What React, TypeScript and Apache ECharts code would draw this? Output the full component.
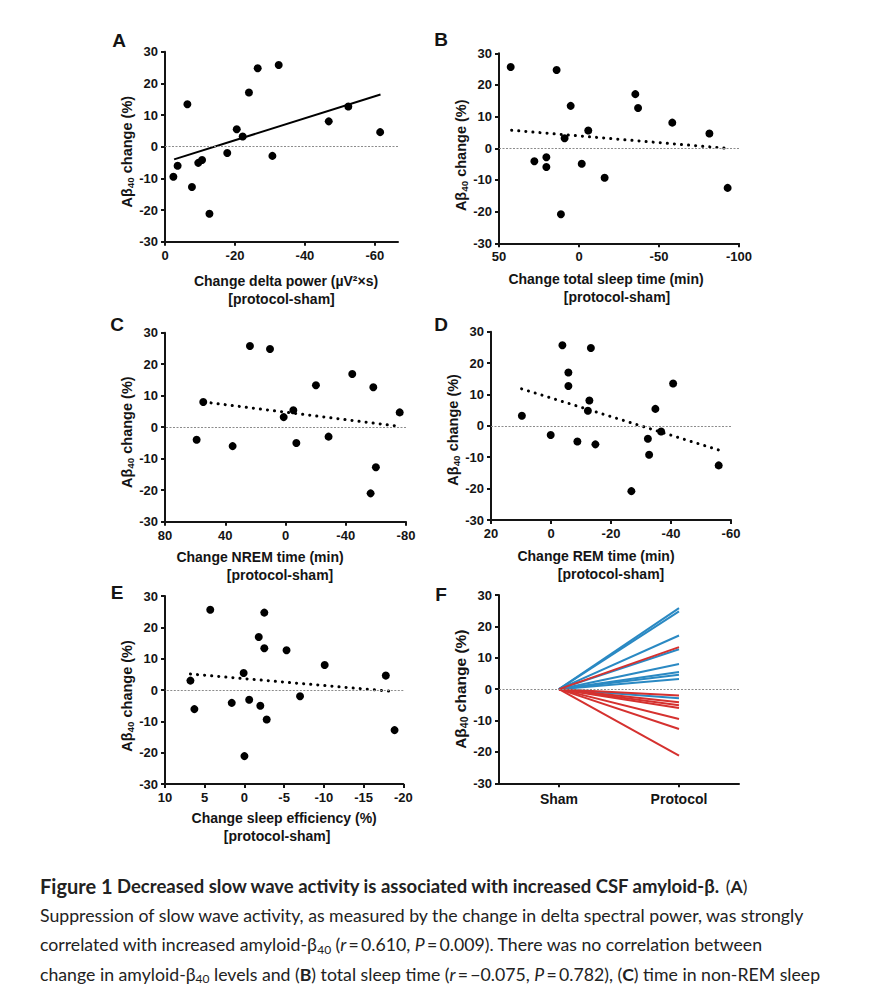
import React, { useEffect, useRef } from 'react';
import * as echarts from 'echarts';

// ---------- Data ----------
// Panel A: change delta power vs Abeta40 change
const aX = [-2.4, -3.6, -6.4, -7.7, -9.5, -10.6, -12.7, -17.8, -20.5, -22.2, -24.0, -26.5, -30.7, -32.5, -46.8, -52.4, -61.5];
const aY = [-9.5, -6.0, 13.4, -12.7, -5.1, -4.2, -21.2, -2.0, 5.5, 3.2, 17.1, 24.8, -2.9, 25.8, 8.0, 12.7, 4.6];
const aFitX = [-2.6, -61.6];
const aFitY = [-4.0, 16.5];

// Panel B: change total sleep time
const bX = [42.7, 27.9, 20.4, 20.4, 14.0, 11.3, 9.0, 5.2, -1.7, -5.8, -16.0, -35.2, -36.9, -58.3, -81.5, -92.9];
const bY = [25.7, -4.1, -2.8, -5.9, 24.7, -20.8, 3.2, 13.4, -4.9, 5.6, -9.3, 17.1, 12.7, 8.1, 4.7, -12.5];
const bFitX = [42.1, -92.3];
const bFitY = [5.7, 0.0];

// Panel C: change NREM time
const cX = [59.0, 54.6, 35.1, 23.6, 10.3, 1.2, -5.2, -7.2, -20.2, -28.6, -44.3, -56.5, -58.3, -60.0, -75.8];
const cY = [-4.0, 8.0, -6.0, 25.8, 24.8, 3.2, 5.4, -5.0, 13.3, -3.0, 16.9, -21.0, 12.7, -12.7, 4.7];
const cFitX = [54.1, -75.3];
const cFitY = [8.0, 0.3];

// Panel D: change REM time
const dX = [9.7, 0.1, -3.8, -5.8, -5.8, -8.8, -12.3, -12.8, -13.3, -14.8, -26.8, -32.3, -32.7, -34.8, -36.7, -40.7, -55.9];
const dY = [3.2, -2.9, 25.7, 17.0, 12.7, -5.0, 4.8, 8.1, 24.8, -5.9, -20.8, -4.1, -9.2, 5.4, -1.8, 13.5, -12.6];
const dFitX = [9.8, -55.9];
const dFitY = [11.8, -7.7];

// Panel E: change sleep efficiency
const eX = [6.8, 6.3, 4.3, 1.6, 0.1, 0.0, -0.6, -1.8, -2.0, -2.5, -2.5, -2.8, -5.3, -7.0, -10.1, -17.8, -18.9];
const eY = [3.0, -6.1, 25.6, -4.1, 5.4, -21.1, -3.1, 16.9, -5.0, 24.7, 13.3, -9.4, 12.7, -2.0, 8.0, 4.6, -12.8];
const eFitX = [6.8, -18.9];
const eFitY = [5.1, -0.5];

// Panel F: sham -> protocol, per subject
const fCategories = ['Sham', 'Protocol'];
const fShamValue = 0;
const fUpEnds = [25.8, 24.8, 17.1, 12.7, 8.0, 5.5, 4.6, 3.2, -2.9];
const fDownEnds = [13.4, -2.0, -4.2, -5.1, -6.0, -9.5, -12.7, -21.2];

// Tick labels
const aXTicks = [0, -20, -40, -60];

// ---------- Styles ----------
const INK = '#141414';
const FONT = '"Liberation Sans", Arial, Helvetica, sans-serif';
const CAP_FONT = 'Lato, "Source Sans Pro", sans-serif';
const BLUE = '#2a89c3';
const RED = '#d5312f';

const grids = [
  { left: 165, top: 51.7, width: 233, height: 190 },
  { left: 499, top: 53.3, width: 240, height: 190 },
  { left: 165, top: 332.7, width: 241, height: 189 },
  { left: 491, top: 331.7, width: 240, height: 188.3 },
  { left: 165, top: 596, width: 238.3, height: 188 },
  { left: 499, top: 595, width: 240, height: 188.3 },
];

function baseAxis() {
  return {
    axisLine: { show: true, onZero: false, lineStyle: { color: INK, width: 2 } },
    axisTick: { show: true, length: 4, lineStyle: { color: INK, width: 2 } },
    axisLabel: { color: INK, fontSize: 13, fontWeight: 'bold', fontFamily: FONT, margin: 7 },
    splitLine: { show: false },
  };
}

function xName(l1: string, l2: string, p1: number[], p2: number[]) {
  return {
    name: `{l1|${l1}}\n{l2|${l2}}`,
    nameLocation: 'middle',
    nameTextStyle: {
      color: INK,
      fontFamily: FONT,
      fontWeight: 'bold',
      fontSize: 14,
      lineHeight: 18,
      rich: {
        l1: { color: INK, fontFamily: FONT, fontWeight: 'bold', fontSize: 14, lineHeight: 18, padding: p1 },
        l2: { color: INK, fontFamily: FONT, fontWeight: 'bold', fontSize: 14, lineHeight: 18, padding: p2 },
      },
    },
  };
}

function yAxisFor(gridIndex: number, fs: number, shift: number) {
  const b = baseAxis();
  return {
    type: 'value',
    gridIndex,
    min: -30,
    max: 30,
    interval: 10,
    ...b,
    name: '{a|Aβ}{s|40}{a| change }{e|(%)}',
    nameLocation: 'middle',
    nameRotate: 90,
    nameGap: 25,
    nameTextStyle: {
      color: INK,
      fontFamily: FONT,
      fontWeight: 'bold',
      rich: {
        a: { color: INK, fontFamily: FONT, fontWeight: 'bold', fontSize: fs, lineHeight: fs + 3 },
        e: { color: INK, fontFamily: FONT, fontWeight: 'bold', fontSize: fs, lineHeight: fs + 3, padding: [0, shift, 0, 0] },
        s: { color: INK, fontFamily: FONT, fontWeight: 'bold', fontSize: fs * 0.68, lineHeight: 8, verticalAlign: 'bottom' },
      },
    },
  };
}

function pts(xs: number[], ys: number[]) {
  return xs.map((x, i) => [x, ys[i]]);
}

const zeroLine = {
  silent: true,
  symbol: ['none', 'none'],
  label: { show: false },
  lineStyle: { color: '#8c8c8c', width: 1, type: [2, 1.5] },
  emphasis: { disabled: true },
  data: [{ yAxis: 0 }],
};

function scatterSeries(idx: number, xs: number[], ys: number[]) {
  return {
    type: 'scatter',
    xAxisIndex: idx,
    yAxisIndex: idx,
    symbol: 'circle',
    symbolSize: 8,
    itemStyle: { color: '#000', opacity: 1 },
    data: pts(xs, ys),
    markLine: zeroLine,
    z: 3,
  };
}

function fitSeries(idx: number, xs: number[], ys: number[], dotted: boolean) {
  return {
    type: 'line',
    xAxisIndex: idx,
    yAxisIndex: idx,
    showSymbol: false,
    symbol: 'none',
    data: pts(xs, ys),
    lineStyle: dotted
      ? { color: '#000', width: 3, type: [0.1, 7], cap: 'round' }
      : { color: '#000', width: 2 },
    z: 2,
  };
}

function buildOption() {
  const xAxes: any[] = [];
  // A
  {
    const b: any = baseAxis();
    xAxes.push({
      type: 'value', gridIndex: 0, min: -66.6, max: 0, inverse: true,
      ...b,
      axisLabel: { ...b.axisLabel, customValues: aXTicks },
      axisTick: { ...b.axisTick, customValues: aXTicks },
      ...xName('Change delta power (µV²×s)', '[protocol-sham]', [0, 0, 0, 9], [0, 0, 0, 0]),
      nameGap: 30,
    });
  }
  // B
  xAxes.push({
    type: 'value', gridIndex: 1, min: -100, max: 50, interval: 50, inverse: true,
    ...baseAxis(),
    ...xName('Change total sleep time (min)', '[protocol-sham]', [0, 26, 0, 0], [0, 4, 0, 0]),
    nameGap: 27,
  });
  // C
  xAxes.push({
    type: 'value', gridIndex: 2, min: -80, max: 80, interval: 40, inverse: true,
    ...baseAxis(),
    ...xName('Change NREM time (min)', '[protocol-sham]', [0, 51, 0, 0], [0, 11, 0, 0]),
    nameGap: 26,
  });
  // D
  xAxes.push({
    type: 'value', gridIndex: 3, min: -60, max: 20, interval: 20, inverse: true,
    ...baseAxis(),
    ...xName('Change REM time (min)', '[protocol-sham]', [0, 30, 0, 0], [0, 0, 0, 0]),
    nameGap: 27,
  });
  // E
  xAxes.push({
    type: 'value', gridIndex: 4, min: -20, max: 10, interval: 5, inverse: true,
    ...baseAxis(),
    ...xName('Change sleep efficiency (%)', '[protocol-sham]', [0, 0, 0, 0], [0, 14, 0, 0]),
    nameGap: 25,
  });
  // F
  {
    const b: any = baseAxis();
    xAxes.push({
      type: 'category', gridIndex: 5, data: fCategories, boundaryGap: true,
      ...b,
      axisTick: { ...b.axisTick, alignWithLabel: true },
      axisLabel: { ...b.axisLabel, fontSize: 14, margin: 9 },
    });
  }

  const yAxes = [
    yAxisFor(0, 14.5, 10),
    yAxisFor(1, 14.5, 14),
    yAxisFor(2, 14.5, 10),
    yAxisFor(3, 14.5, 8),
    yAxisFor(4, 14.5, 12),
    yAxisFor(5, 15.5, 0),
  ];

  const series: any[] = [
    scatterSeries(0, aX, aY), fitSeries(0, aFitX, aFitY, false),
    scatterSeries(1, bX, bY), fitSeries(1, bFitX, bFitY, true),
    scatterSeries(2, cX, cY), fitSeries(2, cFitX, cFitY, true),
    scatterSeries(3, dX, dY), fitSeries(3, dFitX, dFitY, true),
    scatterSeries(4, eX, eY), fitSeries(4, eFitX, eFitY, true),
  ];

  // F zero line carrier
  series.push({
    type: 'line', xAxisIndex: 5, yAxisIndex: 5, data: [], showSymbol: false,
    markLine: zeroLine, z: 1,
  });
  fUpEnds.forEach((v) => {
    series.push({
      type: 'line', xAxisIndex: 5, yAxisIndex: 5, showSymbol: false, symbol: 'none',
      data: [fShamValue, v], lineStyle: { color: BLUE, width: 2 }, z: 2,
    });
  });
  fDownEnds.forEach((v) => {
    series.push({
      type: 'line', xAxisIndex: 5, yAxisIndex: 5, showSymbol: false, symbol: 'none',
      data: [fShamValue, v], lineStyle: { color: RED, width: 2 }, z: 2,
    });
  });

  const letters = [
    ['A', 119, 40], ['B', 441, 39], ['C', 117, 324],
    ['D', 441, 324], ['E', 117, 592], ['F', 441, 594],
  ];

  const th = '\u2009';
  const captionText = [
    '{fig|Figure 1} {t|Decreased slow wave activity is associated with increased CSF amyloid-β.} {n|(}{b|A}{n|)}',
    '{n|Suppression of slow wave activity, as measured by the change in delta spectral power, was strongly}',
    `{n|correlated with increased amyloid-β}{sub|40}{n| (}{i|r}{n|${th}=${th}0.610, }{i|P}{n|${th}=${th}0.009). There was no correlation between}`,
    `{n|change in amyloid-β}{sub|40}{n| levels and (}{b|B}{n|) total sleep time (}{i|r}{n|${th}=${th}−0.075, }{i|P}{n|${th}=${th}0.782), (}{b|C}{n|) time in non-REM sleep}`,
  ].join('\n');

  const LH = 29.3;
  const CS = 17.7;
  const CC = '#222';
  const capRich = {
    fig: { fill: CC, fontFamily: CAP_FONT, fontWeight: 'bold', fontSize: 20, lineHeight: LH },
    t: { fill: CC, fontFamily: CAP_FONT, fontWeight: 'bold', fontSize: 18.5, lineHeight: LH },
    n: { fill: CC, fontFamily: CAP_FONT, fontWeight: 'normal', fontSize: CS, lineHeight: LH },
    b: { fill: CC, fontFamily: CAP_FONT, fontWeight: 'bold', fontSize: CS, lineHeight: LH },
    i: { fill: CC, fontFamily: CAP_FONT, fontStyle: 'italic', fontSize: CS, lineHeight: LH },
    sub: { fill: CC, fontFamily: CAP_FONT, fontSize: 12, padding: [9, 0, 0, 0], verticalAlign: 'middle' },
  };

  const graphic: any[] = letters.map(([t, x, y]) => ({
    type: 'text',
    x: x as number,
    y: y as number,
    style: {
      text: t as string,
      fill: INK,
      fontFamily: FONT,
      fontWeight: 'bold',
      fontSize: 19,
      align: 'center',
      verticalAlign: 'middle',
    },
  }));
  graphic.push({
    type: 'text',
    x: 40,
    y: 871.5,
    style: {
      text: captionText,
      rich: capRich,
      fill: CC,
      fontFamily: CAP_FONT,
      fontSize: CS,
      lineHeight: LH,
      align: 'left',
      verticalAlign: 'top',
    },
  });

  return {
    animation: false,
    backgroundColor: '#ffffff',
    grid: grids,
    xAxis: xAxes,
    yAxis: yAxes,
    series,
    graphic,
  };
}

export default function App() {
  const ref = useRef<HTMLDivElement>(null);
  useEffect(() => {
    if (!ref.current) return;
    const chart = echarts.init(ref.current, undefined, { renderer: 'svg' });
    chart.setOption(buildOption() as any);
    return () => chart.dispose();
  }, []);
  return (
    <div
      ref={ref}
      style={{ position: 'absolute', left: 0, top: 0, width: 879, height: 1000, background: '#fff' }}
    />
  );
}
